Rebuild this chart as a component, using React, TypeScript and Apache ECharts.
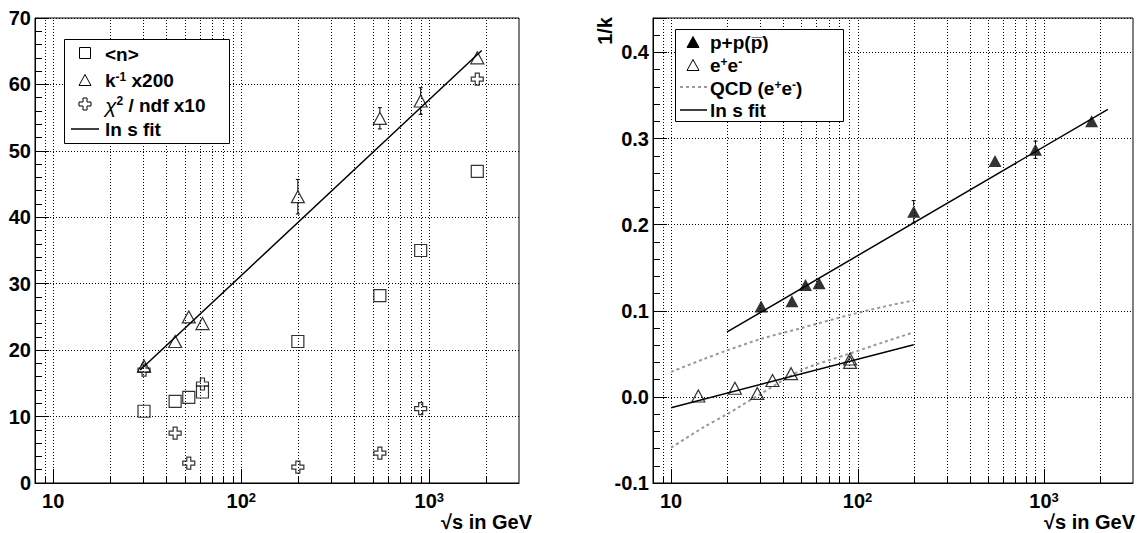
import React, { useEffect, useRef } from "react";
import * as echarts from "echarts";

// ---------- data ----------
// left panel: energies (GeV) and the three scaled quantities
const E_LEFT = [30.4, 44.5, 52.6, 62.2, 200, 546, 900, 1800];
const MEAN_N = [10.8, 12.3, 12.9, 13.7, 21.3, 28.2, 35.0, 46.9];
const INV_K_X200 = [17.6, 21.3, 25.0, 24.0, 43.1, 54.9, 57.5, 64.0];
const INV_K_X200_ERR = [0, 0, 0, 0, 2.6, 1.6, 2.0, 0];
const CHI2_X10 = [17.0, 7.5, 3.0, 14.9, 2.4, 4.5, 11.2, 60.8];
const FIT_LEFT_E = [29, 1900];
const FIT_LEFT_V = [17.0, 65.1];

// right panel
const E_PP = [30.4, 44.5, 52.6, 62.2, 200, 546, 900, 1800];
const INV_K_PP = [0.105, 0.111, 0.13, 0.132, 0.215, 0.274, 0.287, 0.32];
const INV_K_PP_ERR = [0, 0, 0, 0, 0.013, 0, 0.01, 0];
const E_EE = [14, 22, 29, 35, 44, 91.2, 91.2];
const INV_K_EE = [0.001, 0.01, 0.004, 0.019, 0.027, 0.04, 0.044];
const FIT_PP_E = [20, 2200];
const FIT_PP_V = [0.0755, 0.334];
const FIT_EE_E = [10, 200];
const FIT_EE_V = [-0.0125, 0.0605];
const QCD_E = [10, 15, 20, 30, 50, 90, 140, 200];
const QCD_UPPER = [0.029, 0.044, 0.054, 0.067, 0.08, 0.095, 0.105, 0.112];
const QCD_LOWER = [-0.059, -0.035, -0.02, 0.003, 0.031, 0.05, 0.064, 0.075];

// axes
const X_MIN = 8;
const X_MAX = 3000;
const X_GRID = [9, 10, 20, 30, 40, 50, 60, 70, 80, 90, 100, 200, 300, 400, 500, 600, 700, 800, 900, 1000, 2000];
const X_MAJOR = [10, 100, 1000];
const YL_MIN = 0, YL_MAX = 70, YL_STEP = 10;
const YR_MIN = -0.1, YR_MAX = 0.44, YR_STEP = 0.1;

const FONT = "'Liberation Sans', Arial, Helvetica, sans-serif";

const pairs = (xs: number[], ys: number[]) => xs.map((x, i) => [x, ys[i]]);

export default function App() {
  const ref = useRef<HTMLDivElement>(null);
  useEffect(() => {
    if (!ref.current) return;
    const chart = echarts.init(ref.current, undefined, { renderer: "svg" });

    const txt = { fontFamily: FONT, fontWeight: "bold" as const, color: "#000" };
    const rich = {
      a: { ...txt, fontSize: 19 },
      b: { ...txt, fontSize: 20 },
      s: { ...txt, fontSize: 12, verticalAlign: "top" as const },
      sx: { ...txt, fontSize: 13, verticalAlign: "top" as const },
      g: { fontFamily: FONT, fontWeight: "normal" as const, fontStyle: "italic" as const, color: "#000", fontSize: 21 },
    };

    const xLabelFmt = (v: number) => {
      const e = Math.log10(v);
      if (Math.abs(e - Math.round(e)) > 1e-6) return "";
      const n = Math.round(e);
      if (n === 1) return "{b|10}";
      return "{b|10}{sx|" + n + "}";
    };

    const xAxisBase = (gridIndex: number) => ({
      type: "log" as const,
      gridIndex,
      min: X_MIN,
      max: X_MAX,
      logBase: 10,
      axisLine: { show: true, onZero: false, lineStyle: { color: "#000", width: 1 } },
      axisTick: { show: false },
      minorTick: { show: false },
      splitLine: { show: false },
      axisLabel: {
        formatter: xLabelFmt,
        margin: 8,
        rich,
        ...txt,
        fontSize: 20,
        showMinLabel: true,
        showMaxLabel: true,
      },
    });

    const yAxisBase = (
      gridIndex: number,
      min: number,
      max: number,
      interval: number,
      fmt: (v: number) => string,
      showMax: boolean
    ) => ({
      type: "value" as const,
      gridIndex,
      min,
      max,
      interval,
      axisLine: { show: true, onZero: false, lineStyle: { color: "#000", width: 1 } },
      axisTick: { show: true, inside: true, length: 14, lineStyle: { color: "#000", width: 1 } },
      minorTick: { show: true, splitNumber: 5, length: 7, lineStyle: { color: "#000", width: 1 } },
      splitLine: { show: true, lineStyle: { color: "#000", width: 1, type: [1, 2] } },
      axisLabel: { formatter: fmt, margin: 4, ...txt, fontSize: 20, showMaxLabel: showMax, showMinLabel: true },
    });

    // vertical grid lines + ticks on the log axis, drawn through the axis scale
    const gridSeries = (idx: number, yMin: number, yMax: number) => ({
      type: "custom" as const,
      xAxisIndex: idx,
      yAxisIndex: idx,
      silent: true,
      z: 1,
      data: X_GRID.map((v) => [v, yMin, yMax]),
      renderItem: (params: any, api: any) => {
        const v = api.value(0);
        const b = api.coord([v, api.value(1)]);
        const t = api.coord([v, api.value(2)]);
        const major = X_MAJOR.includes(v);
        const x = Math.round(b[0]) + 0.5;
        return {
          type: "group",
          children: [
            {
              type: "line",
              shape: { x1: x, y1: b[1], x2: x, y2: t[1] },
              style: { stroke: "#000", lineWidth: 1, lineDash: [1, 2] },
            },
            {
              type: "line",
              shape: { x1: x, y1: b[1], x2: x, y2: b[1] - (major ? 14 : 7) },
              style: { stroke: "#000", lineWidth: 1 },
            },
          ],
        };
      },
    });

    const errSeries = (idx: number, xs: number[], ys: number[], es: number[]) => ({
      type: "custom" as const,
      xAxisIndex: idx,
      yAxisIndex: idx,
      silent: true,
      z: 3,
      data: xs.map((x, i) => [x, ys[i], es[i]]).filter((d) => d[2] > 0),
      renderItem: (params: any, api: any) => {
        const x = api.value(0), y = api.value(1), e = api.value(2);
        const p = api.coord([x, y]);
        const top = api.coord([x, y + e]);
        const bot = api.coord([x, y - e]);
        const gap = 6;
        const st = { stroke: "#000", lineWidth: 1 };
        const ch: any[] = [];
        if (top[1] < p[1] - gap) {
          ch.push({ type: "line", shape: { x1: p[0], y1: top[1], x2: p[0], y2: p[1] - gap }, style: st });
          ch.push({ type: "line", shape: { x1: p[0] - 2, y1: top[1], x2: p[0] + 2, y2: top[1] }, style: st });
        }
        if (bot[1] > p[1] + gap) {
          ch.push({ type: "line", shape: { x1: p[0], y1: p[1] + gap, x2: p[0], y2: bot[1] }, style: st });
          ch.push({ type: "line", shape: { x1: p[0] - 2, y1: bot[1], x2: p[0] + 2, y2: bot[1] }, style: st });
        }
        return { type: "group", children: ch };
      },
    });

    const open = { color: "rgba(0,0,0,0)", borderColor: "#000", borderWidth: 1.2 };
    const CROSS = "path://M4,0 L8,0 L8,4 L12,4 L12,8 L8,8 L8,12 L4,12 L4,8 L0,8 L0,4 L4,4 Z";

    // legend graphics
    const tri = (cx: number, cy: number, w: number, h: number) => [
      [cx, cy - h / 2],
      [cx - w / 2, cy + h / 2],
      [cx + w / 2, cy + h / 2],
    ];
    const cross = (cx: number, cy: number, s: number, a: number) => {
      const h = s / 2, q = a / 2;
      return [
        [cx - q, cy - h], [cx + q, cy - h], [cx + q, cy - q], [cx + h, cy - q],
        [cx + h, cy + q], [cx + q, cy + q], [cx + q, cy + h], [cx - q, cy + h],
        [cx - q, cy + q], [cx - h, cy + q], [cx - h, cy - q], [cx - q, cy - q],
      ];
    };
    const legText = (x: number, y: number, text: string) => ({
      type: "text",
      x,
      y,
      style: { text, rich, verticalAlign: "middle", align: "left", ...txt, fontSize: 19, fill: "#000" },
    });

    const graphic: any[] = [
      // left legend
      { type: "rect", shape: { x: 64.5, y: 39.5, width: 165, height: 104 }, style: { fill: "#fff", stroke: "#000", lineWidth: 1 }, z: 10 },
      { type: "rect", shape: { x: 79.5, y: 47.5, width: 11, height: 11 }, style: { fill: "none", stroke: "#000", lineWidth: 1 }, z: 11 },
      { type: "polygon", shape: { points: tri(85, 80, 12, 11) }, style: { fill: "none", stroke: "#000", lineWidth: 1 }, z: 11 },
      { type: "polygon", shape: { points: cross(85, 104, 12, 4) }, style: { fill: "none", stroke: "#000", lineWidth: 1 }, z: 11 },
      { type: "line", shape: { x1: 71, y1: 129, x2: 99, y2: 129 }, style: { stroke: "#000", lineWidth: 1.5 }, z: 11 },
      { ...legText(105, 54, "{a|<n>}"), z: 11 },
      { ...legText(105, 80, "{a|k}{s|-1}{a| x200}"), z: 11 },
      { ...legText(105, 105, "{g|χ}{s|2}{a| / ndf x10}"), z: 11 },
      { ...legText(105, 129, "{a|ln s fit}"), z: 11 },
      // right legend
      { type: "rect", shape: { x: 675.5, y: 29.5, width: 168, height: 92 }, style: { fill: "#fff", stroke: "#000", lineWidth: 1 }, z: 10 },
      { type: "polygon", shape: { points: tri(693, 42, 12, 11) }, style: { fill: "#000", stroke: "#000", lineWidth: 1 }, z: 11 },
      { type: "polygon", shape: { points: tri(693, 65, 12, 11) }, style: { fill: "none", stroke: "#000", lineWidth: 1 }, z: 11 },
      { type: "line", shape: { x1: 680, y1: 87, x2: 707, y2: 87 }, style: { stroke: "#999", lineWidth: 2, lineDash: [3, 3] }, z: 11 },
      { type: "line", shape: { x1: 680, y1: 110, x2: 707, y2: 110 }, style: { stroke: "#000", lineWidth: 1.5 }, z: 11 },
      { ...legText(710, 42, "{a|p+p(p\u0305)}"), z: 11 },
      { ...legText(710, 65, "{a|e}{s|+}{a|e}{s|-}"), z: 11 },
      { ...legText(710, 88, "{a|QCD (e}{s|+}{a|e}{s|-}{a|)}"), z: 11 },
      { ...legText(710, 110, "{a|ln s fit}"), z: 11 },
      // axis titles
      { type: "text", x: 532, y: 522, style: { text: "√s in GeV", align: "right", verticalAlign: "middle", ...txt, fontSize: 20, fill: "#000" } },
      { type: "text", x: 1135, y: 522, style: { text: "√s in GeV", align: "right", verticalAlign: "middle", ...txt, fontSize: 20, fill: "#000" } },
      { type: "text", x: 605, y: 17, rotation: Math.PI / 2, style: { text: "1/k", align: "right", verticalAlign: "middle", ...txt, fontSize: 20, fill: "#000" } },
    ];

    chart.setOption({
      animation: false,
      backgroundColor: "#fff",
      grid: [
        { left: 35, top: 18, width: 484, height: 465, show: true, borderColor: "#000", borderWidth: 1, backgroundColor: "rgba(0,0,0,0)" },
        { left: 653, top: 18, width: 480, height: 465, show: true, borderColor: "#000", borderWidth: 1, backgroundColor: "rgba(0,0,0,0)" },
      ],
      xAxis: [xAxisBase(0), xAxisBase(1)],
      yAxis: [
        yAxisBase(0, YL_MIN, YL_MAX, YL_STEP, (v) => String(Math.round(v)), true),
        yAxisBase(1, YR_MIN, YR_MAX, YR_STEP, (v) => v.toFixed(1), false),
      ],
      graphic,
      series: [
        gridSeries(0, YL_MIN, YL_MAX),
        gridSeries(1, YR_MIN, YR_MAX),
        // left
        {
          type: "line", xAxisIndex: 0, yAxisIndex: 0, data: pairs(FIT_LEFT_E, FIT_LEFT_V),
          showSymbol: false, lineStyle: { color: "#000", width: 1.5 }, z: 4, silent: true,
        },
        errSeries(0, E_LEFT, INV_K_X200, INV_K_X200_ERR),
        {
          type: "scatter", xAxisIndex: 0, yAxisIndex: 0, data: pairs(E_LEFT, MEAN_N),
          symbol: "rect", symbolSize: 12, itemStyle: open, z: 5, silent: true,
        },
        {
          type: "scatter", xAxisIndex: 0, yAxisIndex: 0, data: pairs(E_LEFT, INV_K_X200),
          symbol: "triangle", symbolSize: [13, 12], itemStyle: open, z: 5, silent: true,
        },
        {
          type: "scatter", xAxisIndex: 0, yAxisIndex: 0, data: pairs(E_LEFT, CHI2_X10),
          symbol: CROSS, symbolSize: 12, itemStyle: open, z: 5, silent: true,
        },
        // right
        {
          type: "line", xAxisIndex: 1, yAxisIndex: 1, data: pairs(QCD_E, QCD_UPPER), smooth: 0.3,
          showSymbol: false, lineStyle: { color: "#999", width: 2, type: [3, 3] }, z: 3, silent: true,
        },
        {
          type: "line", xAxisIndex: 1, yAxisIndex: 1, data: pairs(QCD_E, QCD_LOWER), smooth: 0.3,
          showSymbol: false, lineStyle: { color: "#999", width: 2, type: [3, 3] }, z: 3, silent: true,
        },
        {
          type: "line", xAxisIndex: 1, yAxisIndex: 1, data: pairs(FIT_PP_E, FIT_PP_V),
          showSymbol: false, lineStyle: { color: "#000", width: 1.5 }, z: 4, silent: true,
        },
        {
          type: "line", xAxisIndex: 1, yAxisIndex: 1, data: pairs(FIT_EE_E, FIT_EE_V),
          showSymbol: false, lineStyle: { color: "#000", width: 1.5 }, z: 4, silent: true,
        },
        errSeries(1, E_PP, INV_K_PP, INV_K_PP_ERR),
        {
          type: "scatter", xAxisIndex: 1, yAxisIndex: 1, data: pairs(E_PP, INV_K_PP),
          symbol: "triangle", symbolSize: [13, 12], itemStyle: { color: "#000" }, z: 5, silent: true,
        },
        {
          type: "scatter", xAxisIndex: 1, yAxisIndex: 1, data: pairs(E_EE, INV_K_EE),
          symbol: "triangle", symbolSize: [13, 12], itemStyle: open, z: 5, silent: true,
        },
      ],
    });
    return () => chart.dispose();
  }, []);
  return (
    <div
      ref={ref}
      style={{ position: "fixed", left: 0, top: 0, width: 1137, height: 533, background: "#fff" }}
    />
  );
}
